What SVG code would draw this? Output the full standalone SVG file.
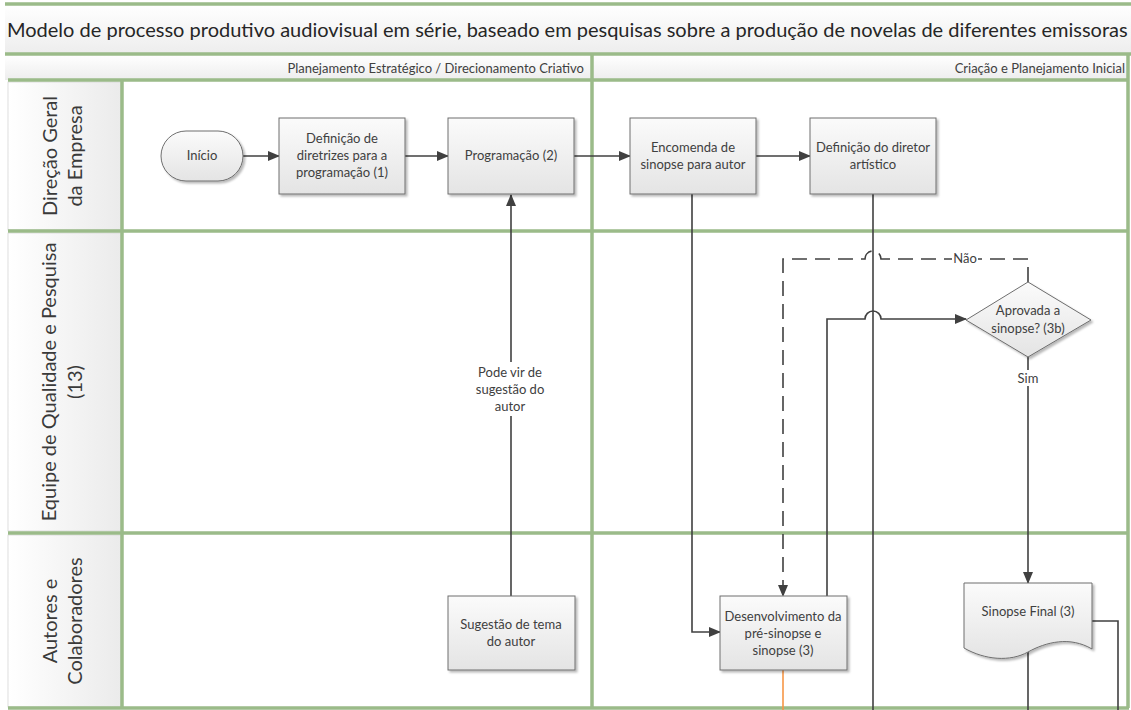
<svg xmlns="http://www.w3.org/2000/svg" width="1131" height="710" viewBox="0 0 1131 710">
  <defs>
    <linearGradient id="gBox" x1="0" y1="0" x2="0" y2="1">
      <stop offset="0" stop-color="#fbfbfb"/>
      <stop offset="1" stop-color="#e4e4e4"/>
    </linearGradient>
    <linearGradient id="gHead" x1="0" y1="0" x2="0" y2="1">
      <stop offset="0" stop-color="#ffffff"/>
      <stop offset="1" stop-color="#ededed"/>
    </linearGradient>
    <linearGradient id="gLane" x1="0" y1="0" x2="1" y2="0">
      <stop offset="0" stop-color="#ffffff"/>
      <stop offset="1" stop-color="#ebebeb"/>
    </linearGradient>
    <filter id="shadow" x="-10%" y="-10%" width="130%" height="130%">
      <feDropShadow dx="2" dy="2" stdDeviation="1" flood-color="#000" flood-opacity="0.28"/>
    </filter>
    <marker id="arrow" markerWidth="12" markerHeight="10" refX="11" refY="5" orient="auto" markerUnits="userSpaceOnUse">
      <path d="M0,0 L12,5 L0,10 Z" fill="#404040"/>
    </marker>
  </defs>
  <style>
    .frame { stroke: #9bbb89; stroke-width: 3.5; fill: none; }
    .box { fill: url(#gBox); stroke: #6e6e6e; stroke-width: 1; filter: url(#shadow); }
    .t { font-family: Lato, "Liberation Sans", sans-serif; font-size: 13px; fill: #404040; text-anchor: middle; }
    .lane { font-family: Lato, "Liberation Sans", sans-serif; font-size: 20px; fill: #3a3a3a; text-anchor: middle; }
    .head { font-family: Lato, "Liberation Sans", sans-serif; font-size: 13px; fill: #404040; text-anchor: end; }
    .title { font-family: Lato, "Liberation Sans", sans-serif; font-size: 20px; fill: #262626; }
    .c { stroke: #404040; stroke-width: 1.6; fill: none; }
    .lbl { fill: #ffffff; }
  </style>

  <rect width="1131" height="710" fill="#ffffff"/>

  <!-- pool: title bar, phase headers, lanes -->
  <g id="pool">
    <rect x="5" y="4" width="1126" height="50" fill="url(#gHead)"/>
    <text class="title" x="7" y="37">Modelo de processo produtivo audiovisual em série, baseado em pesquisas sobre a produção de novelas de diferentes emissoras</text>
    <rect x="5" y="55" width="587" height="25" fill="url(#gHead)"/>
    <rect x="592" y="55" width="536" height="25" fill="url(#gHead)"/>
    <text class="head" x="584" y="73">Planejamento Estratégico / Direcionamento Criativo</text>
    <text class="head" x="1125" y="73">Criação e Planejamento Inicial</text>

    <rect x="8" y="82" width="113" height="148" fill="url(#gLane)" stroke="#d6d6d6" stroke-width="0.8"/>
    <rect x="8" y="233" width="113" height="298" fill="url(#gLane)" stroke="#d6d6d6" stroke-width="0.8"/>
    <rect x="8" y="535" width="113" height="172" fill="url(#gLane)" stroke="#d6d6d6" stroke-width="0.8"/>

    <text class="lane" transform="translate(57,156) rotate(-90)">Direção Geral</text>
    <text class="lane" transform="translate(82,156) rotate(-90)">da Empresa</text>
    <text class="lane" transform="translate(56,382) rotate(-90)">Equipe de Qualidade e Pesquisa</text>
    <text class="lane" transform="translate(82,382) rotate(-90)">(13)</text>
    <text class="lane" transform="translate(57,621) rotate(-90)">Autores e</text>
    <text class="lane" transform="translate(82,621) rotate(-90)">Colaboradores</text>

    <!-- swimlane borders -->
    <path class="frame" d="M5,4 H1131 M5,54 H1131 M8,80 H1129 M8,231 H1129 M8,533 H1129 M8,708 H1129"/>
    <path class="frame" d="M122,80 V708 M592,54 V708 M1128,54 V708"/>
  </g>

  <!-- connectors -->
  <g id="connectors">
    <path class="c" d="M243,156 H279" marker-end="url(#arrow)"/>
    <path class="c" d="M405,156 H448" marker-end="url(#arrow)"/>
    <path class="c" d="M574,156 H630" marker-end="url(#arrow)"/>
    <path class="c" d="M756,156 H810" marker-end="url(#arrow)"/>
    <path class="c" d="M692,194 V632 H720" marker-end="url(#arrow)"/>
    <path class="c" d="M873,194 V710"/>
    <path class="c" d="M827,596 V319 H865 A8,8 0 0 1 881,319 H966" marker-end="url(#arrow)"/>
    <path class="c" d="M1028,282 V259 H881 A8,8 0 0 0 865,259 H783 V596" stroke-dasharray="15 8" marker-end="url(#arrow)"/>
    <path class="c" d="M1028,357 V583" marker-end="url(#arrow)"/>
    <path class="c" d="M511,596 V195" marker-end="url(#arrow)"/>
    <path class="c" d="M1092,621 H1118 V710"/>
    <path class="c" d="M1028,652 V710"/>
    <path d="M783,670 V710" stroke="#f79646" stroke-width="1.6" fill="none"/>

    <!-- connector labels -->
    <rect class="lbl" x="952" y="252" width="26" height="14"/>
    <text class="t" x="965" y="263">Não</text>
    <rect class="lbl" x="1015" y="370" width="26" height="16"/>
    <text class="t" x="1028" y="383">Sim</text>
    <rect class="lbl" x="470" y="362" width="82" height="54"/>
    <text class="t" x="510" y="377">Pode vir de</text>
    <text class="t" x="510" y="394">sugestão do</text>
    <text class="t" x="510" y="411">autor</text>
  </g>

  <g id="inicio">
    <rect class="box" x="161" y="131" width="82" height="50" rx="25" ry="25"/>
    <text class="t" x="202" y="160">Início</text>
  </g>

  <g id="diretrizes">
    <rect class="box" x="279" y="118" width="126" height="76"/>
    <text class="t" x="342" y="143">Definição de</text>
    <text class="t" x="342" y="160">diretrizes para a</text>
    <text class="t" x="342" y="177">programação (1)</text>
  </g>

  <g id="programacao">
    <rect class="box" x="448" y="118" width="126" height="76"/>
    <text class="t" x="511" y="160">Programação (2)</text>
  </g>

  <g id="encomenda">
    <rect class="box" x="630" y="118" width="126" height="76"/>
    <text class="t" x="693" y="152">Encomenda de</text>
    <text class="t" x="693" y="169">sinopse para autor</text>
  </g>

  <g id="diretor">
    <rect class="box" x="810" y="118" width="126" height="76"/>
    <text class="t" x="873" y="152">Definição do diretor</text>
    <text class="t" x="873" y="169">artístico</text>
  </g>

  <g id="aprovada">
    <path class="box" d="M1028,282 L1091,320 L1028,357 L966,320 Z"/>
    <text class="t" x="1028" y="315">Aprovada a</text>
    <text class="t" x="1028" y="333">sinopse? (3b)</text>
  </g>

  <g id="sugestao">
    <rect class="box" x="448" y="596" width="127" height="74"/>
    <text class="t" x="511" y="629">Sugestão de tema</text>
    <text class="t" x="511" y="646">do autor</text>
  </g>

  <g id="desenvolvimento">
    <rect class="box" x="720" y="596" width="127" height="74"/>
    <text class="t" x="783" y="621">Desenvolvimento da</text>
    <text class="t" x="783" y="638">pré-sinopse e</text>
    <text class="t" x="783" y="655">sinopse (3)</text>
  </g>

  <g id="sinopse-final">
    <path class="box" d="M964,583 H1092 V649 C1070,636 1046,642 1028,652 C1010,662 985,660 964,648 Z"/>
    <text class="t" x="1028" y="616">Sinopse Final (3)</text>
  </g>
</svg>
